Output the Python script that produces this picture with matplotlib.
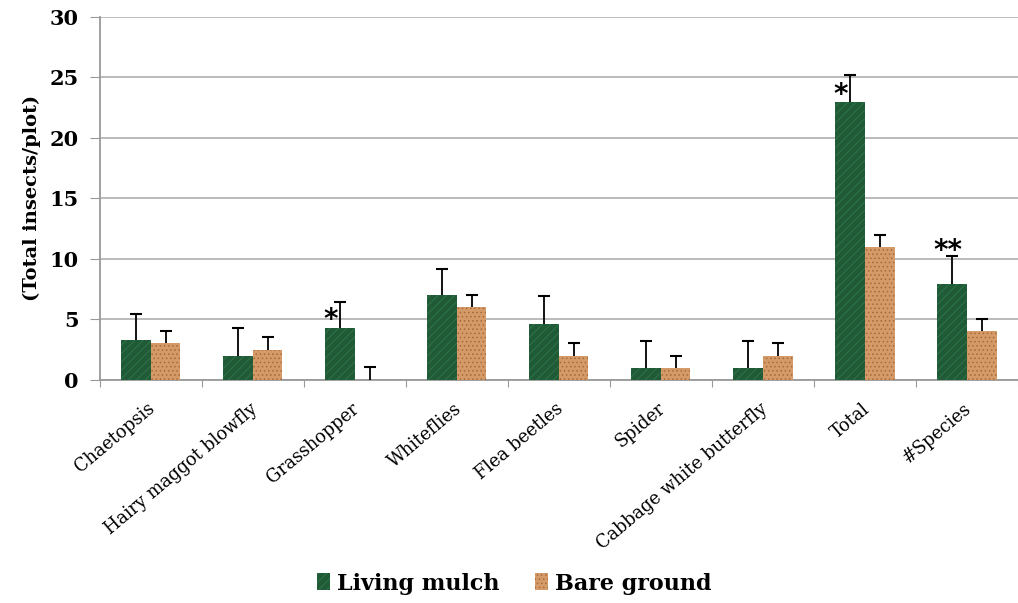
import matplotlib
matplotlib.use("Agg")
import matplotlib.pyplot as plt
import numpy as np
from matplotlib.patches import Patch

categories = ["Chaetopsis", "Hairy maggot blowfly", "Grasshopper", "Whiteflies",
              "Flea beetles", "Spider", "Cabbage white butterfly", "Total", "#Species"]
living_mulch = [3.3, 2.0, 4.3, 7.0, 4.65, 1.0, 1.0, 23.0, 7.95]
living_err = [2.15, 2.25, 2.15, 2.2, 2.25, 2.2, 2.2, 2.2, 2.3]
bare_ground = [3.05, 2.5, 0.0, 6.05, 2.0, 1.0, 2.0, 11.0, 4.05]
bare_err = [1.0, 1.05, 1.1, 1.0, 1.05, 1.0, 1.05, 1.0, 0.95]
signif = ["", "", "*", "", "", "", "", "*", "**"]
signif_y = [None, None, 5.5, None, None, None, None, 24.1, 11.2]

green = "#215a36"
tan = "#d49a68"
serif = "DejaVu Serif"
plt.rcParams["hatch.linewidth"] = 0.6

fig = plt.figure(figsize=(10.18, 6.03), dpi=100)
ax = fig.add_axes([0.098, 0.37, 0.902, 0.602])

x = np.arange(len(categories))
w = 0.29
b1 = ax.bar(x - w / 2, living_mulch, w, color=green, edgecolor="#2f7a4c", zorder=3,
            hatch="////", linewidth=0)
b2 = ax.bar(x + w / 2, bare_ground, w, color=tan, edgecolor="#a86a3c", zorder=3,
            hatch="....", linewidth=0)

# upward-only error bars with a cap on top
for xs, vals, errs in [(x - w / 2, living_mulch, living_err), (x + w / 2, bare_ground, bare_err)]:
    tops = np.array(vals) + np.array(errs)
    ax.vlines(xs, vals, tops, color="black", linewidth=1.3, zorder=4)
    ax.plot(xs, tops, linestyle="none", marker="_", markersize=8,
            markeredgewidth=1.5, color="black", zorder=4)

for i, (s, sy) in enumerate(zip(signif, signif_y)):
    if s:
        xo = x[i] - w / 2 - (0.095 if len(s) == 1 else 0.04)
        ax.annotate(s, xy=(xo, sy), xytext=(0, -15), textcoords="offset pixels",
                    ha="center", va="baseline", fontsize=20, fontweight="bold",
                    family="DejaVu Sans", zorder=5)

ax.set_xlim(-0.5, len(categories) - 0.5)
ax.set_ylim(0, 30)
ax.set_yticks(range(0, 31, 5))
ax.set_yticklabels([str(v) for v in range(0, 31, 5)], fontsize=15, fontweight="bold",
                   family=serif)
ax.yaxis.grid(True, color="#b5b5b5", linewidth=1.3, zorder=0)
ax.set_axisbelow(True)

ax.set_xticks(np.arange(-0.5, len(categories), 1.0))
ax.set_xticklabels([])
ax.tick_params(axis="x", direction="out", length=5, color="#999999")
ax.tick_params(axis="y", direction="out", length=7, color="#999999", pad=8)
for i, c in enumerate(categories):
    ax.text(x[i] + 0.02, -2.2, c, rotation=40, rotation_mode="anchor", ha="right",
            va="center", fontsize=12.7, family=serif, transform=ax.transData)

for s in ["top", "right"]:
    ax.spines[s].set_visible(False)
ax.spines["left"].set_color("#999999")
ax.spines["bottom"].set_color("#999999")
ax.spines["left"].set_linewidth(1.3)
ax.spines["bottom"].set_linewidth(1.3)

ax.set_ylabel("(Total insects/plot)", fontsize=14, fontweight="bold", family=serif,
              labelpad=6)

handles = [Patch(facecolor=green, edgecolor="#2f7a4c", hatch="////", linewidth=0),
           Patch(facecolor=tan, edgecolor="#a86a3c", hatch="....", linewidth=0)]
fig.legend(handles, ["Living mulch", "Bare ground"], loc="center",
           bbox_to_anchor=(0.505, 0.032), ncol=2, frameon=False,
           prop={"family": serif, "weight": "bold", "size": 16},
           handlelength=0.6, handleheight=0.8, handletextpad=0.3, columnspacing=1.6)

fig.savefig("out.png", dpi=100)
